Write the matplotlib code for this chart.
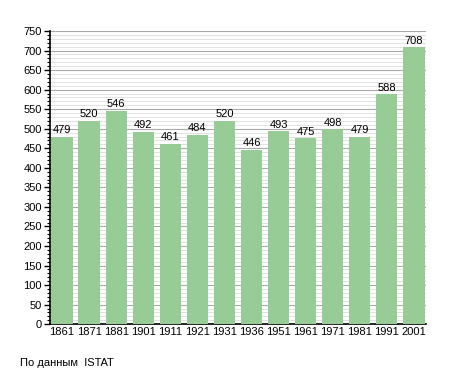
import numpy as np
import matplotlib.pyplot as plt
from matplotlib.ticker import MultipleLocator

years = ['1861', '1871', '1881', '1901', '1911', '1921', '1931',
         '1936', '1951', '1961', '1971', '1981', '1991', '2001']
population = [479, 520, 546, 492, 461, 484, 520, 446, 493, 475, 498, 479, 588, 708]

plt.rcParams['font.family'] = ['Liberation Sans', 'DejaVu Sans']

fig = plt.figure(figsize=(4.55, 3.73), dpi=100)
ax = fig.add_axes([0.110, 0.131, 0.826, 0.786])

x = np.arange(len(years))
bars = ax.bar(x, population, width=0.78, color='#97cc97', zorder=3)

for xi, v in zip(x, population):
    ax.text(xi, v + 4, str(v), ha='center', va='bottom', fontsize=8, zorder=4)

ax.set_xlim(-0.44, len(years) - 0.56)
ax.set_ylim(0, 750)
ax.set_xticks(x)
ax.set_xticklabels(years, fontsize=8)
ax.yaxis.set_major_locator(MultipleLocator(50))
ax.yaxis.set_minor_locator(MultipleLocator(10))
ax.tick_params(axis='y', labelsize=8, length=4, width=1, pad=2)
ax.tick_params(axis='y', which='minor', length=2, width=0.8)
ax.tick_params(axis='x', length=0, pad=2)

ax.grid(axis='y', which='major', color='#aaaaaa', linewidth=0.8, zorder=0)
ax.grid(axis='y', which='minor', color='#dddddd', linewidth=0.6, zorder=0)
ax.set_axisbelow(True)

for s in ['top', 'right']:
    ax.spines[s].set_visible(False)
ax.spines['left'].set_linewidth(1.2)
ax.spines['bottom'].set_linewidth(1.2)

fig.text(0.044, 0.02, 'По данным  ISTAT', fontsize=8)

fig.savefig('out.png', dpi=100)
